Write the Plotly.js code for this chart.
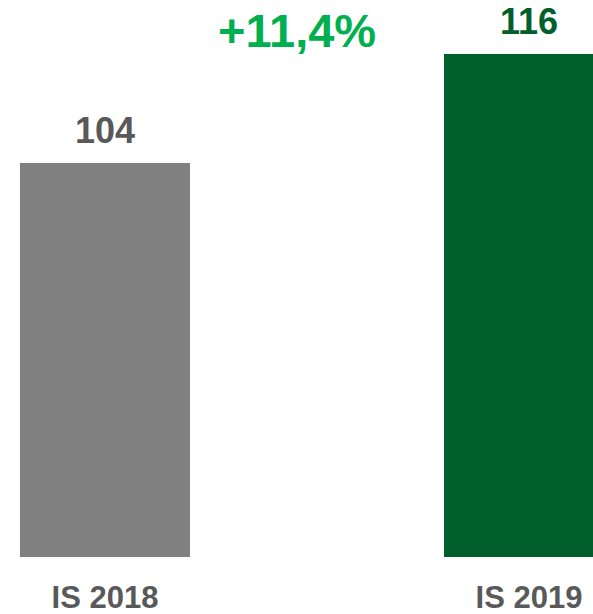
<!DOCTYPE html>
<html>
<head>
<meta charset="utf-8">
<script src="https://cdn.plot.ly/plotly-3.0.1.min.js"></script>
<style>
  html, body { margin: 0; padding: 0; background: #ffffff; }
  #chart { width: 593px; height: 614px; }
</style>
</head>
<body>
<div id="chart"></div>
<script>
// ---- data ----
const categories = ["IS 2018", "IS 2019"];
const values = [104, 116];
const barColors = ["#808080", "#005F2B"];
const valueLabelColors = ["#595959", "#005F2B"];
const changeLabel = "+11,4%";

const FONT = "Liberation Sans, Arial, sans-serif";

const trace = {
  type: "bar",
  x: categories,
  y: values,
  width: 0.401,
  marker: { color: barColors, line: { width: 0 } },
  hoverinfo: "skip",
  cliponaxis: true
};

const annotations = categories.map((c, i) => ({
  x: c,
  y: values[i],
  xref: "x",
  yref: "y",
  text: "<b>" + values[i] + "</b>",
  showarrow: false,
  xanchor: "center",
  yanchor: "bottom",
  yshift: 10,
  font: { family: FONT, size: 36, color: valueLabelColors[i] }
}));

annotations.push({
  x: 0.5,
  y: 0.946,
  xref: "paper",
  yref: "paper",
  text: "<b>" + changeLabel + "</b>",
  showarrow: false,
  xanchor: "center",
  yanchor: "middle",
  font: { family: FONT, size: 47, color: "#00B050" }
});

const layout = {
  width: 593,
  height: 614,
  margin: { l: 0, r: 0, t: 0, b: 57, pad: 0 },
  paper_bgcolor: "#ffffff",
  plot_bgcolor: "#ffffff",
  showlegend: false,
  xaxis: {
    type: "category",
    range: [-0.2476, 1.151],
    showgrid: false,
    zeroline: false,
    showline: false,
    ticks: "",
    tickfont: { family: FONT, size: 31, color: "#595959", weight: "bold" },
    ticklabelstandoff: 19
  },
  yaxis: {
    range: [60.62, 121.94],
    visible: false,
    showgrid: false,
    zeroline: false
  },
  annotations: annotations
};

Plotly.newPlot("chart", [trace], layout, { displayModeBar: false, staticPlot: true });
</script>
</body>
</html>
